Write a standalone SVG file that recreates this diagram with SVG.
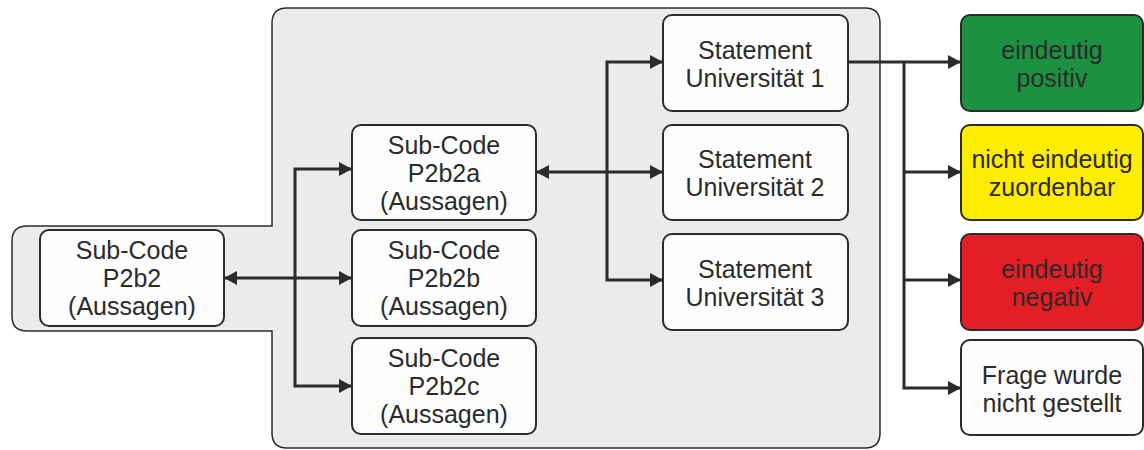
<svg xmlns="http://www.w3.org/2000/svg" width="1144" height="450" viewBox="0 0 1144 450">
  <style>
    .panel { fill: #ebebeb; stroke: #2b2b2b; stroke-width: 1.5; }
    .box { fill: #fdfdfd; stroke: #2b2b2b; stroke-width: 2; }
    .green { fill: #1c9141; }
    .yellow { fill: #ffed00; }
    .red { fill: #e31e24; }
    .lbl { font-family: "Liberation Sans", Arial, sans-serif; font-size: 25px; fill: #2b2b2b; text-anchor: middle; }
    .edge { fill: none; stroke: #2b2b2b; stroke-width: 3; }
  </style>
  <defs>
    <marker id="arrow" viewBox="0 0 13 14" refX="13" refY="7" markerWidth="13" markerHeight="14" markerUnits="userSpaceOnUse" orient="auto-start-reverse">
      <path d="M0,0 L13,7 L0,14 Z" fill="#2b2b2b"/>
    </marker>
  </defs>

  <!-- background panel with tab on the left -->
  <path class="panel" d="M287,8 H865 Q880,8 880,23 V433 Q880,448 865,448 H287 Q272,448 272,433 V331 H27 Q12,331 12,316 V241 Q12,226 27,226 H272 V23 Q272,8 287,8 Z"/>

  <!-- connectors -->
  <g id="connectors">
    <path class="edge" d="M224,278 H352" marker-start="url(#arrow)" marker-end="url(#arrow)"/>
    <path class="edge" d="M352,169 H295 V386 H352" marker-start="url(#arrow)" marker-end="url(#arrow)"/>
    <path class="edge" d="M536,172 H663" marker-start="url(#arrow)" marker-end="url(#arrow)"/>
    <path class="edge" d="M663,62 H607 V280 H663" marker-start="url(#arrow)" marker-end="url(#arrow)"/>
    <path class="edge" d="M848,62 H961" marker-end="url(#arrow)"/>
    <path class="edge" d="M904,62 V388 H961" marker-end="url(#arrow)"/>
    <path class="edge" d="M904,172 H961" marker-end="url(#arrow)"/>
    <path class="edge" d="M904,280 H961" marker-end="url(#arrow)"/>
  </g>

  <g id="p2b2">
    <rect class="box" x="40" y="230" width="184" height="96" rx="9"/>
    <text class="lbl" x="132" y="259">Sub-Code</text>
    <text class="lbl" x="132" y="287">P2b2</text>
    <text class="lbl" x="132" y="315">(Aussagen)</text>
  </g>
  <g id="p2b2a">
    <rect class="box" x="352" y="125" width="184" height="95" rx="9"/>
    <text class="lbl" x="444" y="154">Sub-Code</text>
    <text class="lbl" x="444" y="182">P2b2a</text>
    <text class="lbl" x="444" y="210">(Aussagen)</text>
  </g>
  <g id="p2b2b">
    <rect class="box" x="352" y="230" width="184" height="96" rx="9"/>
    <text class="lbl" x="444" y="259">Sub-Code</text>
    <text class="lbl" x="444" y="287">P2b2b</text>
    <text class="lbl" x="444" y="315">(Aussagen)</text>
  </g>
  <g id="p2b2c">
    <rect class="box" x="352" y="338" width="184" height="96" rx="9"/>
    <text class="lbl" x="444" y="367">Sub-Code</text>
    <text class="lbl" x="444" y="395">P2b2c</text>
    <text class="lbl" x="444" y="423">(Aussagen)</text>
  </g>

  <g id="statement1">
    <rect class="box" x="663" y="15" width="185" height="96" rx="9"/>
    <text class="lbl" x="755" y="59">Statement</text>
    <text class="lbl" x="755" y="87">Universität 1</text>
  </g>
  <g id="statement2">
    <rect class="box" x="663" y="125" width="185" height="95" rx="9"/>
    <text class="lbl" x="755" y="168">Statement</text>
    <text class="lbl" x="755" y="196">Universität 2</text>
  </g>
  <g id="statement3">
    <rect class="box" x="663" y="234" width="185" height="96" rx="9"/>
    <text class="lbl" x="755" y="278">Statement</text>
    <text class="lbl" x="755" y="306">Universität 3</text>
  </g>

  <g id="positive">
    <rect class="box green" x="961" y="15" width="182" height="96" rx="9"/>
    <text class="lbl" x="1052" y="59">eindeutig</text>
    <text class="lbl" x="1052" y="87">positiv</text>
  </g>
  <g id="unclear">
    <rect class="box yellow" x="961" y="125" width="182" height="95" rx="9"/>
    <text class="lbl" x="1052" y="168">nicht eindeutig</text>
    <text class="lbl" x="1052" y="196">zuordenbar</text>
  </g>
  <g id="negative">
    <rect class="box red" x="961" y="234" width="182" height="96" rx="9"/>
    <text class="lbl" x="1052" y="278">eindeutig</text>
    <text class="lbl" x="1052" y="306">negativ</text>
  </g>
  <g id="not-asked">
    <rect class="box" x="961" y="340" width="182" height="95" rx="9"/>
    <text class="lbl" x="1052" y="384">Frage wurde</text>
    <text class="lbl" x="1052" y="412">nicht gestellt</text>
  </g>
</svg>
